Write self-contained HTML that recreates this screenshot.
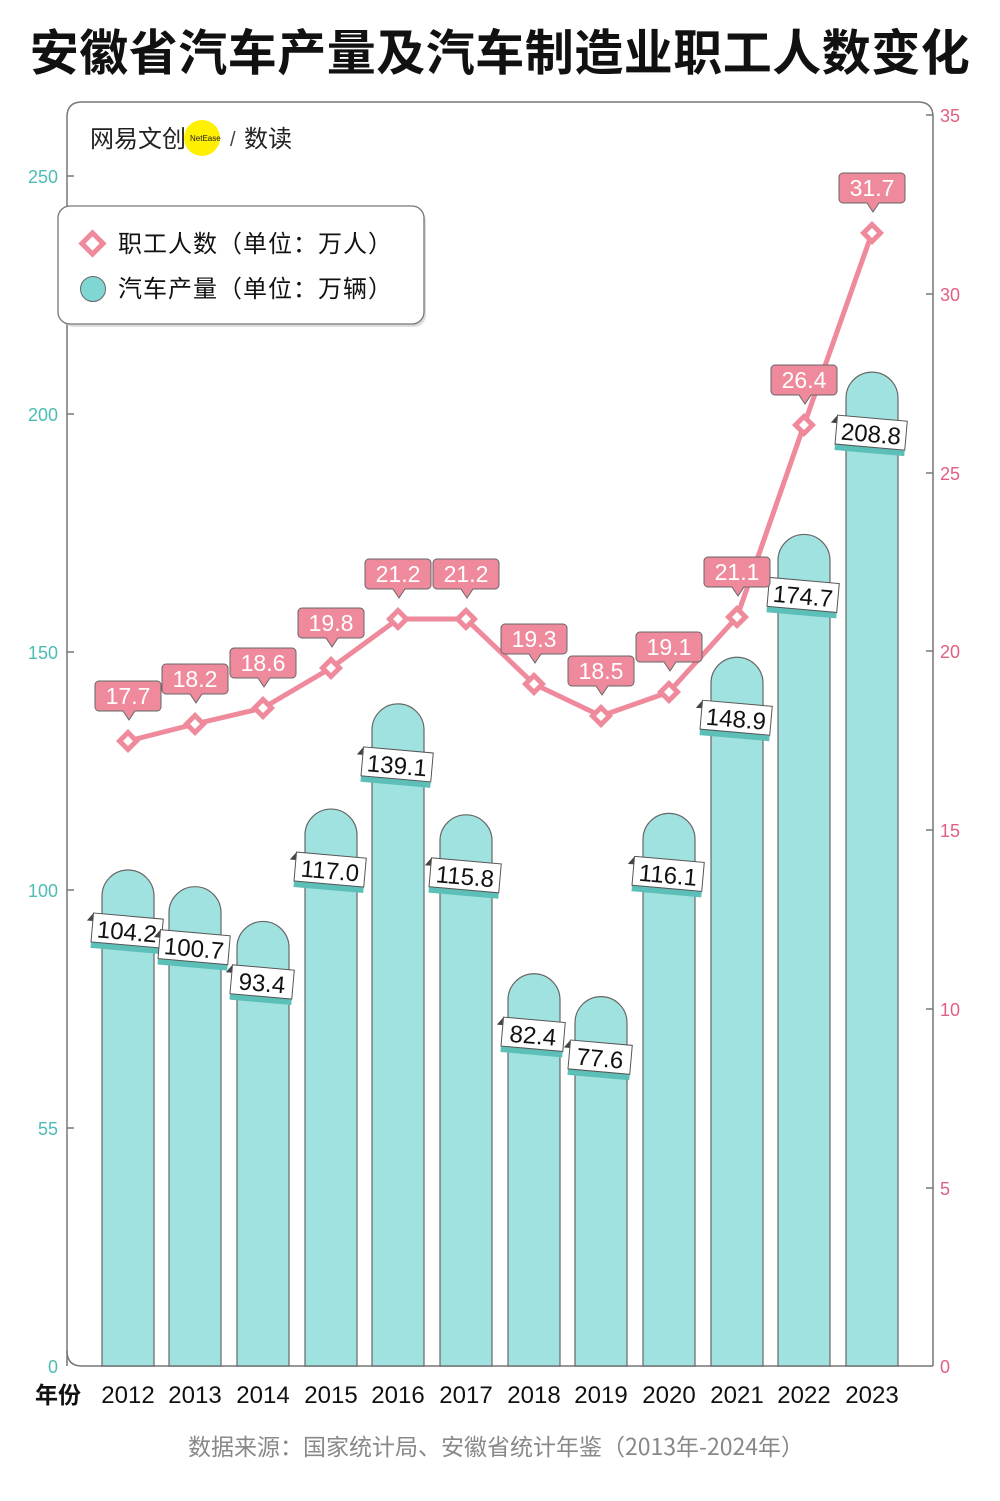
<!DOCTYPE html>
<html><head><meta charset="utf-8"><style>
body{margin:0;background:#fff;width:1000px;height:1496px;overflow:hidden}
svg text{font-family:"Liberation Sans","Noto Sans CJK SC",sans-serif}
</style></head><body>
<svg width="1000" height="1496" viewBox="0 0 1000 1496">
<text x="500" y="70" text-anchor="middle" font-size="49" font-weight="bold" fill="#111" letter-spacing="0.5" style="font-family:'Noto Sans CJK SC',sans-serif">安徽省汽车产量及汽车制造业职工人数变化</text>
<path d="M67 1366 V117 Q67 102 82 102 H918 Q933 102 933 117 V1366" fill="none" stroke="#777" stroke-width="1.5"/>
<path d="M67 1351 Q67 1366 82 1366 H933" fill="none" stroke="#777" stroke-width="1.5"/>
<g font-size="18" fill="#4bbdb5" text-anchor="end">
<text x="58" y="1373">0</text><text x="58" y="1135">55</text><text x="58" y="897">100</text><text x="58" y="659">150</text><text x="58" y="421">200</text><text x="58" y="183">250</text>
</g>
<g stroke="#777" stroke-width="1.5">
<line x1="67" y1="1128" x2="74" y2="1128"/><line x1="67" y1="890" x2="74" y2="890"/><line x1="67" y1="652" x2="74" y2="652"/><line x1="67" y1="414" x2="74" y2="414"/><line x1="67" y1="176" x2="74" y2="176"/>
<line x1="926" y1="115" x2="933" y2="115"/><line x1="926" y1="294" x2="933" y2="294"/><line x1="926" y1="473" x2="933" y2="473"/><line x1="926" y1="651" x2="933" y2="651"/><line x1="926" y1="830" x2="933" y2="830"/><line x1="926" y1="1009" x2="933" y2="1009"/><line x1="926" y1="1188" x2="933" y2="1188"/>
</g>
<g font-size="18" fill="#e06080">
<text x="940" y="122">35</text><text x="940" y="301">30</text><text x="940" y="480">25</text><text x="940" y="658">20</text><text x="940" y="837">15</text><text x="940" y="1016">10</text><text x="940" y="1195">5</text><text x="940" y="1373">0</text>
</g>
<g id="bars" fill="#a0e2df" stroke="#666" stroke-width="1.2"></g>
<g id="blabels"></g>
<polyline id="line" fill="none" stroke="#ee8a9c" stroke-width="5" stroke-linejoin="round"/>
<g id="pts"></g>
<g id="plabels"></g>
<text x="58" y="1403" text-anchor="middle" style="font-family:'Noto Sans CJK SC',sans-serif;font-weight:bold" font-size="23" fill="#111">年份</text>
<g id="years" font-size="24" fill="#111" text-anchor="middle"></g>
<text x="496" y="1455" text-anchor="middle" font-size="23" fill="#888" style="font-family:'Noto Sans CJK SC',sans-serif">数据来源：国家统计局、安徽省统计年鉴（2013年-2024年）</text>
<text x="90" y="147" font-size="24" fill="#222">网易文创</text>
<circle cx="202" cy="138" r="18" fill="#ffef00"/>
<text x="190" y="141" font-size="8" fill="#222">NetEase</text>
<text x="230" y="146" font-size="20" fill="#444">/</text>
<text x="244" y="147" font-size="24" fill="#222">数读</text>
<rect x="62" y="209" width="364" height="118" rx="12" fill="#ddd"/>
<rect x="58" y="206" width="366" height="118" rx="12" fill="#fff" stroke="#777" stroke-width="1.3"/>
<rect x="85" y="236" width="15" height="15" transform="rotate(45 92.5 243.5)" fill="#fff" stroke="#ee8a9c" stroke-width="5"/>
<circle cx="93" cy="289" r="12.5" fill="#7fd6d2" stroke="#666" stroke-width="1"/>
<text x="118" y="252" font-size="24" fill="#111" style="font-family:'Noto Sans CJK SC',sans-serif" letter-spacing="1">职工人数（单位：万人）</text>
<text x="118" y="297" font-size="24" fill="#111" style="font-family:'Noto Sans CJK SC',sans-serif" letter-spacing="1">汽车产量（单位：万辆）</text>
</svg>
<script>
(function(){
var xs=[128,195,263,331,398,466,534,601,669,737,804,872];
var prod=[104.2,100.7,93.4,117.0,139.1,115.8,82.4,77.6,116.1,148.9,174.7,208.8];
var emp=[17.7,18.2,18.6,19.8,21.2,21.2,19.3,18.5,19.1,21.1,26.4,31.7];
var py=[741,724,708,668,619,619,684,716,692,617,425,233];
var ns="http://www.w3.org/2000/svg";
function el(p,t,a,txt){var e=document.createElementNS(ns,t);for(var k in a)e.setAttribute(k,a[k]);if(txt!=null)e.textContent=txt;document.getElementById(p).appendChild(e);return e;}
var pts=[];
for(var i=0;i<12;i++){
 var x=xs[i],ty=1366-prod[i]*4.76,r=26;
 el("bars","path",{d:"M"+(x-r)+" 1366 V"+(ty+r)+" A"+r+" "+r+" 0 0 1 "+(x+r)+" "+(ty+r)+" V1366 Z"});
 var cy=ty+62,cx=x-1;
 var g=el("blabels","g",{transform:"rotate(5 "+cx+" "+cy+")"});
 var w=prod[i]>=100?70:62;
 g.innerHTML='<rect x="'+(cx-w/2)+'" y="'+(cy-12)+'" width="'+w+'" height="31" fill="#5cc0b8"/><path d="M'+(cx-w/2)+' '+(cy-16)+' l-6 8 l6 0z" fill="#444"/><rect x="'+(cx-w/2)+'" y="'+(cy-16)+'" width="'+w+'" height="29" fill="#fff" stroke="#555" stroke-width="1"/><text x="'+cx+'" y="'+(cy+8)+'" text-anchor="middle" font-size="24" fill="#111">'+prod[i].toFixed(1)+'</text>';
 pts.push(x+","+py[i]);
 var d=el("pts","g",{});
 d.innerHTML='<rect x="'+(x-6)+'" y="'+(py[i]-6)+'" width="12" height="12" transform="rotate(45 '+x+' '+py[i]+')" fill="#fff" stroke="#ee8a9c" stroke-width="5"/>';
 var by=py[i]-45;
 var b=el("plabels","g",{});
 b.innerHTML='<path d="M'+(x-29)+' '+(by-15)+' h58 a4 4 0 0 1 4 4 v22 a4 4 0 0 1 -4 4 h-22 l-6 9 l-6 -9 h-24 a4 4 0 0 1 -4 -4 v-22 a4 4 0 0 1 4 -4z" fill="#ee8a9c" stroke="#666" stroke-width="1"/><text x="'+x+'" y="'+(by+8)+'" text-anchor="middle" font-size="23" fill="#fff">'+emp[i].toFixed(1)+'</text>';
 el("years","text",{x:x,y:1403},String(2012+i));
}
document.getElementById("line").setAttribute("points",pts.join(" "));
})();
</script>
</body></html>
